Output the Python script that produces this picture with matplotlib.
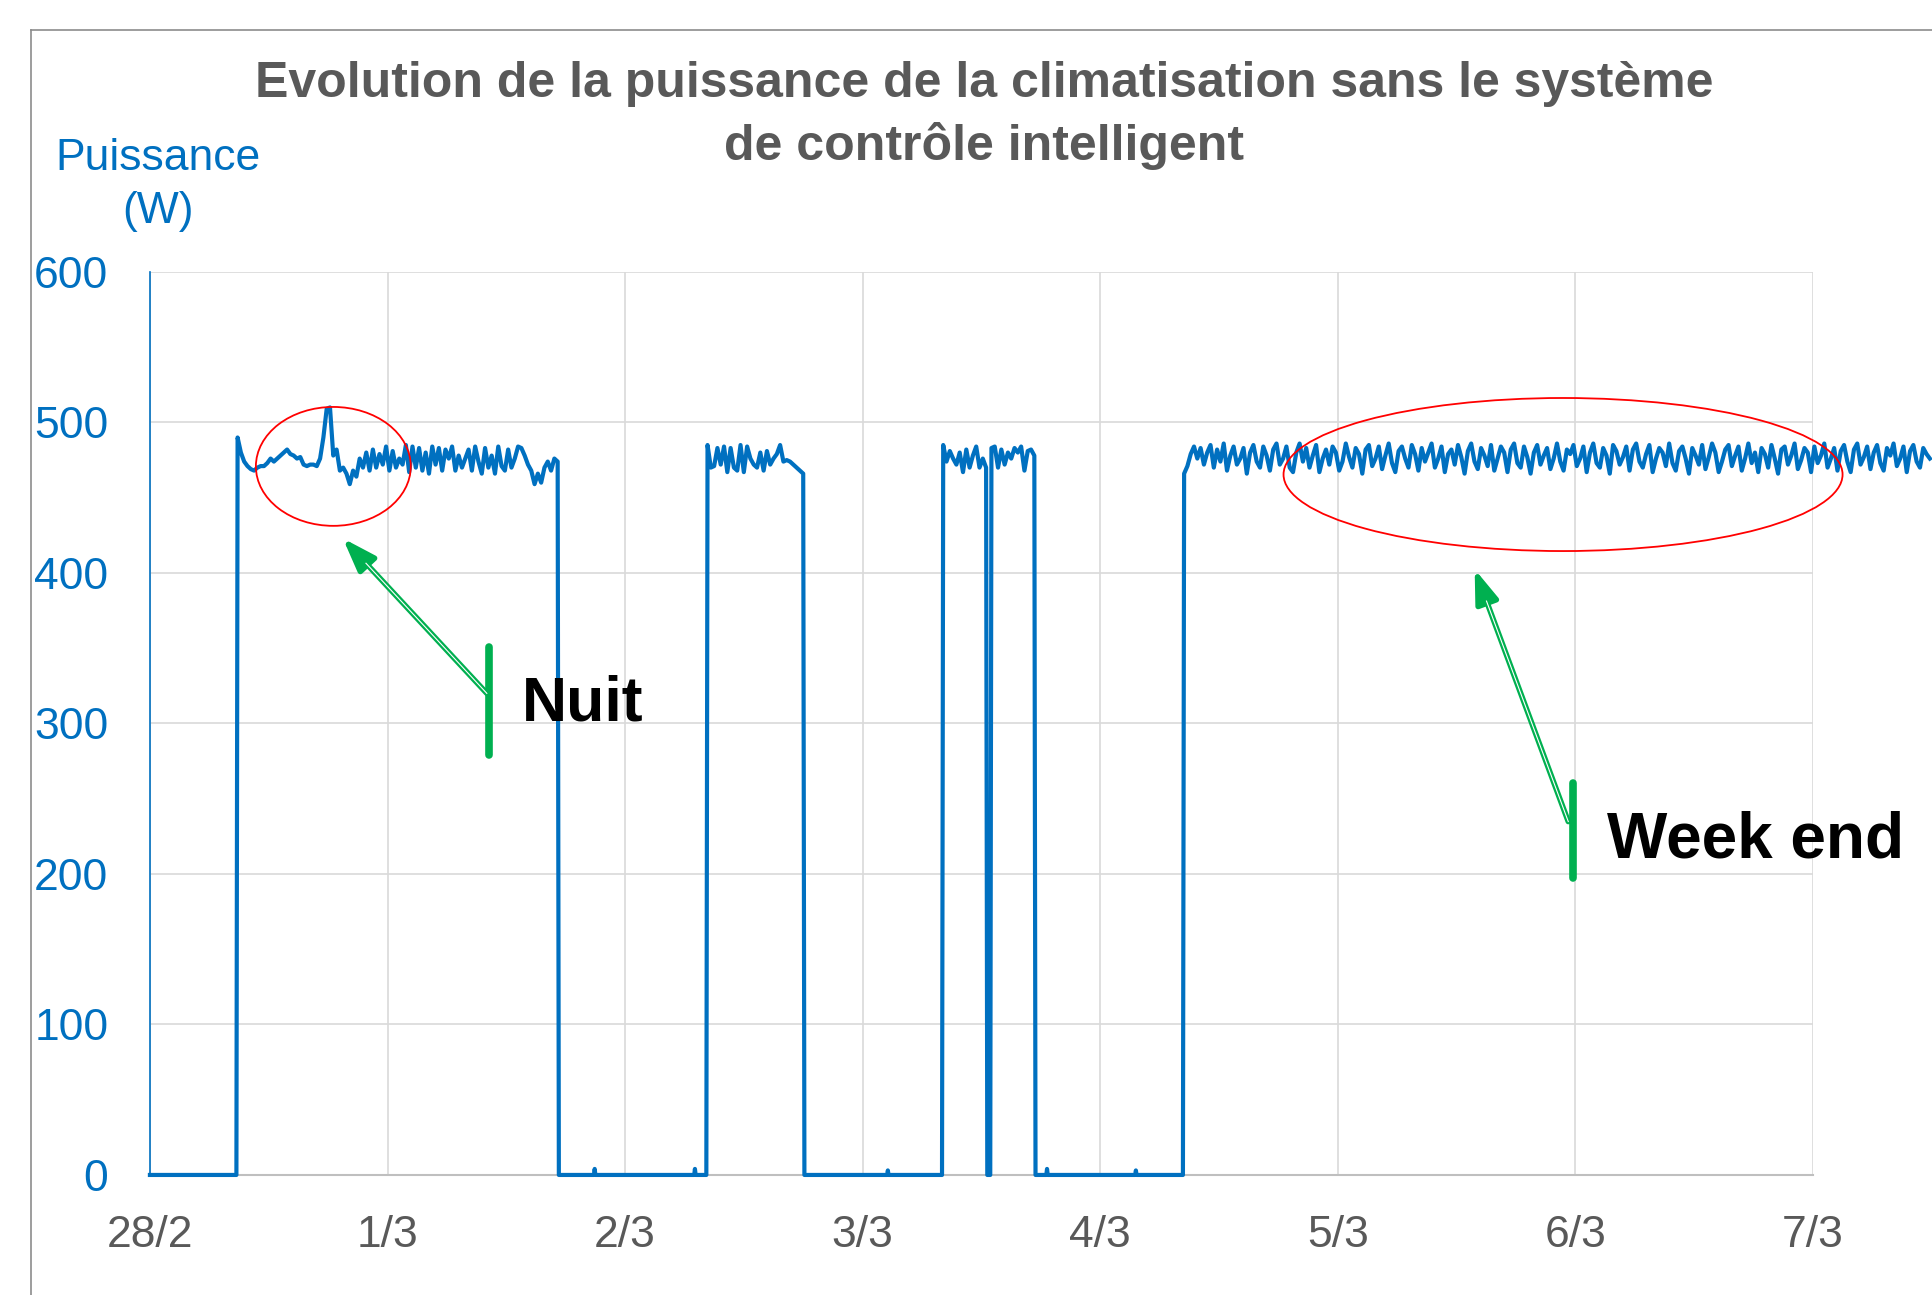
import numpy as np
import matplotlib.pyplot as plt
from matplotlib.patches import Ellipse, FancyArrowPatch
from matplotlib.lines import Line2D

plt.rcParams['font.family'] = ['Liberation Sans', 'DejaVu Sans']

# time axis: days since 28/2 00:00, one reading every 20 min
step = 1 / 72
day_labels = ['28/2', '1/3', '2/3', '3/3', '4/3', '5/3', '6/3', '7/3']
y_ticks = [0, 100, 200, 300, 400, 500, 600]

# power (W) while the air conditioner is running
on1_start = 0.369
on1 = [490, 480, 474, 471, 469, 468, 470, 471, 471, 473, 476, 474, 476, 478, 480,
       482, 479, 478, 476, 477, 472, 471, 472, 472, 471, 476, 490, 509, 510, 478,
       482, 468, 470, 466, 459, 468, 464, 476, 470, 480, 468, 482, 470, 479, 472,
       484, 468, 481, 470, 476, 472, 485, 467, 484, 470, 483, 468, 480, 466, 484,
       472, 483, 468, 482, 476, 484, 468, 478, 470, 476, 482, 468, 484, 474, 466,
       483, 470, 478, 466, 484, 471, 468, 482, 470, 476, 484, 483, 478, 472, 468,
       459, 466, 460, 470, 474, 468, 476, 474]

on2_start = 2.347
on2 = [485, 470, 471, 483, 472, 484, 467, 483, 470, 468, 485, 467, 484, 476, 472,
       470, 480, 468, 481, 472, 476, 479, 485, 474, 475, 474, 472, 470, 468, 466]

on3_start = 3.339
on3 = [485, 474, 481, 476, 472, 480, 467, 482, 470, 478, 484, 470, 476, 470]

on4_start = 3.542
on4 = [483, 484, 470, 482, 472, 480, 476, 483, 480, 484, 468, 481, 482, 478]

on5_start = 4.353
on5 = [466, 471, 479, 484, 476, 483, 472, 480, 485, 470, 482, 474, 486, 468, 478,
       484, 472, 476, 483, 466, 480, 485, 474, 470, 484, 478, 468, 482, 486, 472,
       476, 484, 470, 467, 480, 486, 474, 483, 470, 478, 485, 467, 476, 482, 472,
       484, 480, 468, 474, 486, 477, 470, 483, 479, 466, 482, 485, 471, 476, 484,
       469, 478, 486, 473, 467, 481, 484, 476, 470, 485, 479, 468, 483, 474, 480,
       486, 470, 476, 484, 467, 479, 482, 472, 485, 477, 466, 481, 486, 474, 469,
       483, 478, 471, 485, 468, 476, 484, 480, 467, 482, 486, 473, 470, 484, 477,
       466, 480, 485, 472, 478, 483, 469, 476, 486, 474, 468, 482, 479, 485, 471,
       476, 484, 467, 480, 486, 473, 470, 483, 478, 466, 485, 481, 472, 477, 484,
       468, 482, 486, 474, 470, 479, 485, 467, 476, 483, 480, 471, 486, 473, 468,
       481, 484, 476, 466, 483, 478, 472, 485, 469, 477, 486, 480, 467, 474, 482,
       485, 471, 478, 484, 468, 476, 486, 473, 480, 467, 483, 479, 470, 485, 476,
       466, 482, 484, 472, 478, 486, 469, 475, 483, 480, 467, 484, 473, 478, 486,
       470, 476, 483, 468, 481, 485, 474, 467, 482, 486, 472, 477, 484, 469, 480,
       485, 473, 468, 483, 478, 486, 471, 476, 484, 467, 481, 485, 474, 470, 483,
       479, 476]

# small standby readings while the unit is off
blip_t = [1.872, 2.294, 3.106, 3.776, 4.150]
blip_p = [4, 4, 3, 4, 3]

# build the time series
t = [0.0]
p = [0.0]
segments = [(on1_start, on1), (on2_start, on2), (on3_start, on3),
            (on4_start, on4), (on5_start, on5)]
for i, (start, vals) in enumerate(segments):
    tt = start + step * np.arange(len(vals))
    t += [start - 0.005] + list(tt)
    p += [0] + vals
    if i < len(segments) - 1:
        t.append(tt[-1] + 0.005)
        p.append(0)
for bt, bp in zip(blip_t, blip_p):
    t += [bt - 0.003, bt, bt + 0.003]
    p += [0, bp, 0]
order = np.argsort(t)
t = np.array(t)[order]
p = np.array(p)[order]

blue = '#0070C0'
green = '#00B050'
grey_txt = '#595959'

fig = plt.figure(figsize=(19.32, 12.95), dpi=100)
ax = fig.add_axes([0.0776, 0.0927, 0.8608, 0.6973])

ax.plot(t, p, color=blue, lw=3.0, clip_on=False, zorder=3)
ax.set_xlim(0, 7)
ax.set_ylim(0, 600)
ax.set_xticks(range(len(day_labels)))
ax.set_xticklabels(day_labels)
ax.set_yticks(y_ticks)
ax.grid(color='#D9D9D9', lw=1.2)
ax.set_axisbelow(True)
ax.tick_params(length=0)
ax.tick_params(axis='y', pad=30, labelsize=32, labelcolor=blue)
ax.tick_params(axis='x', pad=29, labelsize=32, labelcolor=grey_txt)
ax.spines['top'].set_visible(False)
ax.spines['right'].set_visible(False)
ax.spines['bottom'].set_color('#BFBFBF')
ax.spines['bottom'].set_linewidth(1.5)
ax.spines['left'].set_color(blue)
ax.spines['left'].set_linewidth(1.2)

# red circles
ax.add_patch(Ellipse((0.772, 470.8), 0.652, 79, fill=False, ec='red', lw=1.3,
                     clip_on=False, zorder=4))
ax.add_patch(Ellipse((5.948, 465.4), 2.353, 101.7, fill=False, ec='red', lw=1.3,
                     clip_on=False, zorder=4))


def pointer(tail, tip, bar_x, bar_y0, bar_y1):
    ax.plot([bar_x, bar_x], [bar_y0, bar_y1], color=green, lw=5.5,
            solid_capstyle='round', zorder=5, clip_on=False)
    ax.add_patch(FancyArrowPatch(tail, tip, arrowstyle='-|>,head_length=1.0,head_width=0.35',
                                 mutation_scale=20, color=green, lw=4.0, shrinkA=0, shrinkB=0,
                                 zorder=5, clip_on=False))
    # hollow look of the shaft
    a = ax.transData.transform(tail)
    b = ax.transData.transform(tip)
    d = b - a
    f = 1 - 34 / np.hypot(*d)
    mid = ax.transData.inverted().transform(a + f * d)
    ax.plot([tail[0], mid[0]], [tail[1], mid[1]], color='white', lw=0.8, zorder=6,
            clip_on=False)


pointer((1.418, 320), (0.812, 423), 1.428, 279, 351)
pointer((5.970, 234.8), (5.576, 402.5), 5.991, 197.3, 260.5)
ax.text(1.564, 302, 'Nuit', fontsize=45, fontweight='bold', va='baseline', zorder=7)
ax.text(6.131, 210.6, 'Week end', fontsize=46, fontweight='bold', va='baseline', zorder=7)

# titles
fig.text(0.5093, 0.9251, 'Evolution de la puissance de la climatisation sans le système',
         ha='center', va='baseline', fontsize=36, fontweight='bold', color=grey_txt)
fig.text(0.5093, 0.8764, 'de contrôle intelligent',
         ha='center', va='baseline', fontsize=36, fontweight='bold', color=grey_txt)
fig.text(0.0818, 0.8687, 'Puissance', ha='center', va='baseline', fontsize=32, color=blue)
fig.text(0.0818, 0.8278, '(W)', ha='center', va='baseline', fontsize=32, color=blue)

# outer frame of the chart
fig.add_artist(Line2D([31 / 1932, 1], [1 - 30 / 1295] * 2, transform=fig.transFigure,
                      color='#8C8C8C', lw=1.2))
fig.add_artist(Line2D([31 / 1932] * 2, [0, 1 - 30 / 1295], transform=fig.transFigure,
                      color='#8C8C8C', lw=1.2))

fig.savefig('out.png', dpi=100)
